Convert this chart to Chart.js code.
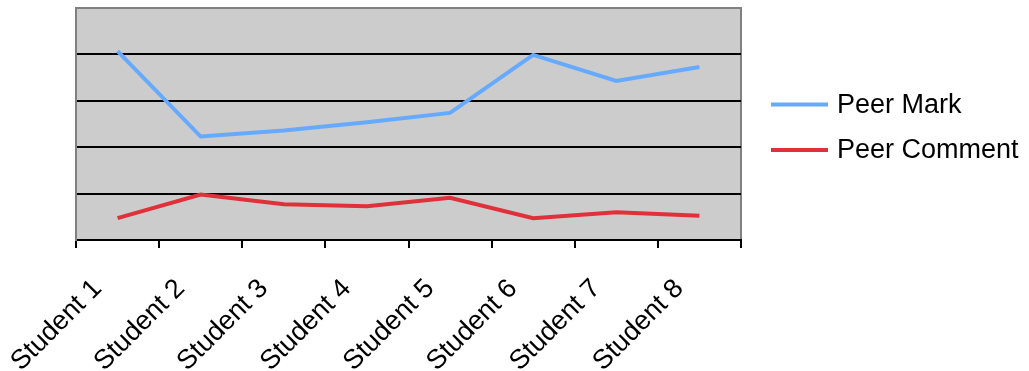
<!DOCTYPE html>
<html>
<head>
<meta charset="utf-8">
<script src="https://cdn.jsdelivr.net/npm/chart.js@4"></script>
<style>
  html, body { margin: 0; padding: 0; background: #fff; }
  #wrap { width: 1029px; height: 371px; }
</style>
</head>
<body>
<div id="wrap"><canvas id="grafico"></canvas></div>
<script>
const students = ['Student 1', 'Student 2', 'Student 3', 'Student 4', 'Student 5', 'Student 6', 'Student 7', 'Student 8']
const peerMark = [4.07, 2.23, 2.36, 2.54, 2.74, 3.99, 3.43, 3.73]
const peerComment = [0.47, 0.98, 0.77, 0.73, 0.91, 0.47, 0.60, 0.52]
const yTicks = [0, 1, 2, 3, 4, 5]

const fontFamily = 'Arial, "Liberation Sans", sans-serif'

// grey plot area with a grey frame, like the old spreadsheet charts
const plotBack = {
    id: 'plotBack',
    beforeDraw(chart) {
        const { ctx, chartArea: a } = chart
        ctx.save()
        ctx.fillStyle = '#cccccc'
        ctx.fillRect(a.left, a.top, a.right - a.left, a.bottom - a.top)
        ctx.strokeStyle = '#808080'
        ctx.lineWidth = 2
        ctx.strokeRect(a.left, a.top, a.right - a.left, a.bottom - a.top)
        ctx.restore()
    }
}

// legend on the right, drawn by hand so the long label fits
const sideLegend = {
    id: 'sideLegend',
    afterDraw(chart) {
        const { ctx } = chart
        const a = chart.chartArea
        ctx.save()
        ctx.font = '27px ' + fontFamily
        ctx.textBaseline = 'middle'
        ctx.textAlign = 'left'
        chart.data.datasets.forEach((ds, i) => {
            const y = 104.5 + i * 45.5
            const x = a.right + 30
            ctx.strokeStyle = ds.borderColor
            ctx.lineWidth = 4
            ctx.beginPath()
            ctx.moveTo(x, y)
            ctx.lineTo(x + 57, y)
            ctx.stroke()
            ctx.fillStyle = '#000'
            ctx.fillText(ds.label, x + 66, y + 1)
        })
        ctx.restore()
    }
}

const ctx = document.getElementById('grafico')

new Chart(ctx, {
    type: 'line',
    data: {
        labels: students,
        datasets: [
            {
                label: 'Peer Mark',
                data: peerMark,
                borderColor: '#66aaff',
                backgroundColor: '#66aaff',
                borderWidth: 4,
                pointRadius: 0,
                tension: 0
            },
            {
                label: 'Peer Comment',
                data: peerComment,
                borderColor: '#e0303a',
                backgroundColor: '#e0303a',
                borderWidth: 4,
                pointRadius: 0,
                tension: 0
            }
        ]
    },
    options: {
        responsive: true,
        maintainAspectRatio: false,
        animation: false,
        layout: {
            padding: { top: 8, left: 76, right: 288, bottom: 0 }
        },
        scales: {
            x: {
                offset: true,
                afterFit(scale) {
                    scale.height = 131
                },
                grid: {
                    offset: true,
                    drawOnChartArea: false,
                    drawTicks: true,
                    tickLength: 8,
                    color: '#000',
                    lineWidth: 2
                },
                border: { color: '#000', width: 2 },
                ticks: {
                    minRotation: 45,
                    maxRotation: 45,
                    padding: 25,
                    labelOffset: -20,
                    color: '#000',
                    font: { family: fontFamily, size: 27 }
                }
            },
            y: {
                min: yTicks[0],
                max: yTicks[yTicks.length - 1],
                afterBuildTicks(scale) {
                    scale.ticks = yTicks.map(v => ({ value: v }))
                },
                grid: {
                    drawTicks: false,
                    color: c => c.tick && c.tick.value === yTicks[yTicks.length - 1] ? '#808080' : '#000',
                    lineWidth: 2
                },
                border: { color: '#808080', width: 2 },
                ticks: { display: false }
            }
        },
        plugins: {
            legend: { display: false },
            tooltip: { enabled: false }
        }
    },
    plugins: [plotBack, sideLegend]
})
</script>
</body>
</html>
